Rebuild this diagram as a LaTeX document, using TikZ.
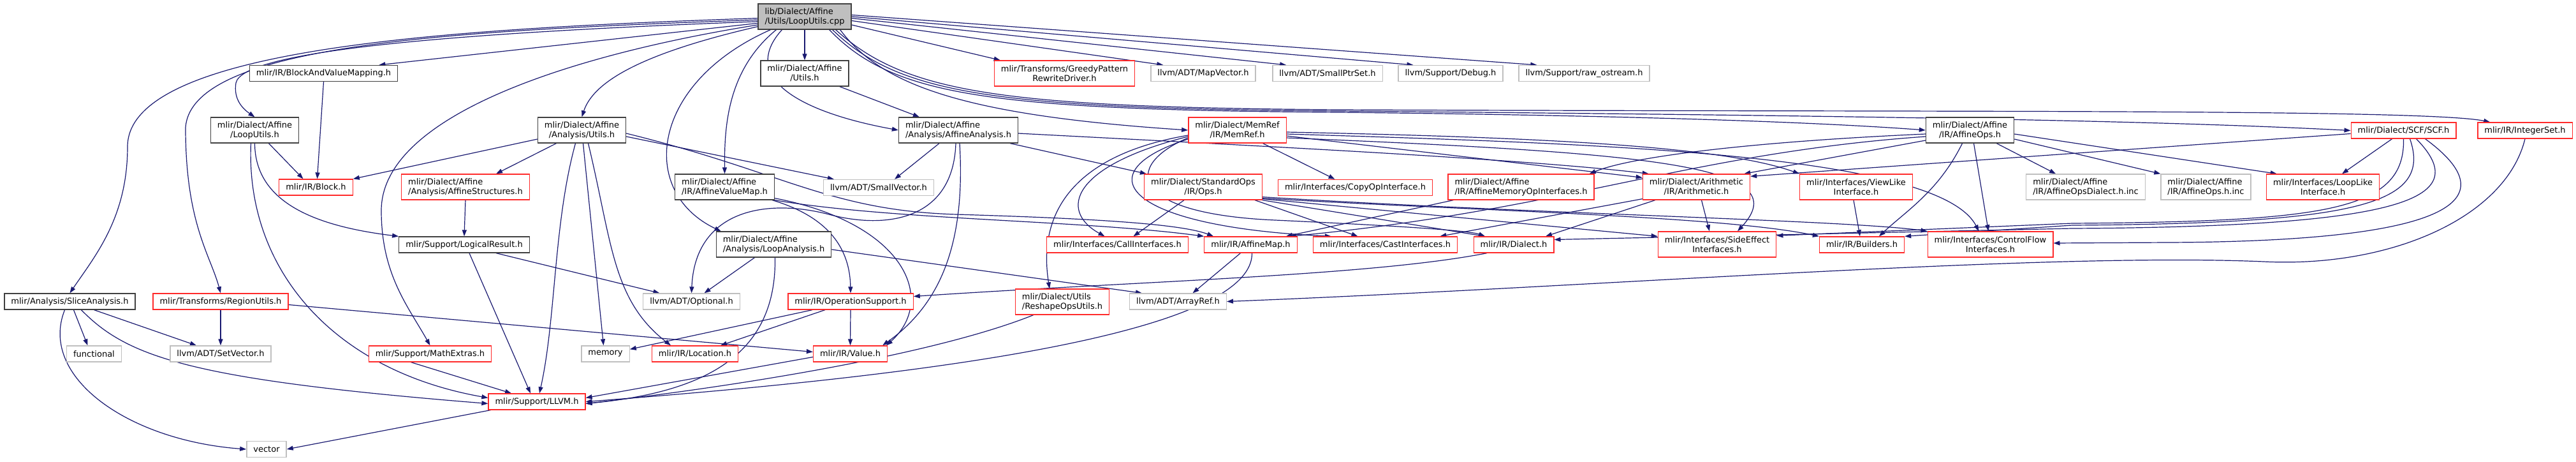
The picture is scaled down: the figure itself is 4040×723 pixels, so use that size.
\documentclass[tikz,border=0pt]{standalone}
\usepackage{fontspec}
\setmainfont{DejaVu Sans}
\usepackage{tikz}
\usetikzlibrary{arrows.meta,backgrounds}

\definecolor{edgeblue}{HTML}{191970}
\definecolor{docgrey}{HTML}{404040}
\definecolor{sysgrey}{HTML}{BFBFBF}
\definecolor{cutred}{HTML}{FF2A2A}

\begin{document}
\begin{tikzpicture}[
    x=1pt, y=-1pt,
    font=\fontsize{13pt}{15pt}\selectfont,
    hdr/.style    ={draw=docgrey, line width=1.3pt, fill=white, inner xsep=10.5pt, inner ysep=0pt, minimum height=25pt},
    hdrcut/.style ={hdr, draw=cutred},
    syshdr/.style ={hdr, draw=sysgrey},
    srcfile/.style={hdr, fill=sysgrey},
    dbl/.style    ={minimum height=40pt, align=center},
    dbll/.style   ={minimum height=40pt, align=left},
    inc/.style    ={-{Triangle[length=10pt,width=7pt]}, line width=1.2pt, edgeblue},
  ]
  \useasboundingbox (0,0) rectangle (4040,723);
  % the file itself
  \node[srcfile, dbll] (lu-root) at (1262,26) {lib/Dialect/Affine\\/Utils/LoopUtils.cpp};
  % row 2
  \node[hdr]          (lu-bavm)     at (507.5,115)  {mlir/IR/BlockAndValueMapping.h};
  \node[hdr, dbl]     (lu-affutils) at (1262,115)   {mlir/Dialect/Affine\\/Utils.h};
  \node[hdrcut, dbl]  (lu-greedy)   at (1669.5,115) {mlir/Transforms/GreedyPattern\\RewriteDriver.h};
  \node[syshdr]       (lu-mapvec)   at (1887,115)   {llvm/ADT/MapVector.h};
  \node[syshdr]       (lu-smallptr) at (2082,115)   {llvm/ADT/SmallPtrSet.h};
  \node[syshdr]       (lu-debug)    at (2275,115)   {llvm/Support/Debug.h};
  \node[syshdr]       (lu-rawos)    at (2484.5,115) {llvm/Support/raw\_ostream.h};
  % row 3
  \node[hdr, dbl]     (lu-loopuh)   at (399.5,204)  {mlir/Dialect/Affine\\/LoopUtils.h};
  \node[hdr, dbl]     (lu-anautils) at (912.5,204)  {mlir/Dialect/Affine\\/Analysis/Utils.h};
  \node[hdr, dbll]    (lu-affana)   at (1503,204)   {mlir/Dialect/Affine\\/Analysis/AffineAnalysis.h};
  \node[hdrcut, dbl]  (lu-memref)   at (1940.5,204) {mlir/Dialect/MemRef\\/IR/MemRef.h};
  \node[hdr, dbl]     (lu-affops)   at (3089.5,204) {mlir/Dialect/Affine\\/IR/AffineOps.h};
  \node[hdrcut]       (lu-scf)      at (3769.5,204.5) {mlir/Dialect/SCF/SCF.h};
  \node[hdrcut]       (lu-intset)   at (3960,204.5) {mlir/IR/IntegerSet.h};
  % row 4
  \node[hdrcut]       (lu-block)    at (495.5,293.5) {mlir/IR/Block.h};
  \node[hdrcut, dbll] (lu-affstruct) at (730,293)   {mlir/Dialect/Affine\\/Analysis/AffineStructures.h};
  \node[hdr, dbll]    (lu-affvmap)  at (1136.5,293) {mlir/Dialect/Affine\\/IR/AffineValueMap.h};
  \node[syshdr]       (lu-smallvec) at (1378,294)   {llvm/ADT/SmallVector.h};
  \node[hdrcut, dbl]  (lu-stdops)   at (1887,293)   {mlir/Dialect/StandardOps\\/IR/Ops.h};
  \node[hdrcut]       (lu-copyop)   at (2125.5,294) {mlir/Interfaces/CopyOpInterface.h};
  \node[hdrcut, dbll] (lu-affmemop) at (2385.5,293) {mlir/Dialect/Affine\\/IR/AffineMemoryOpInterfaces.h};
  \node[hdrcut, dbl]  (lu-arith)    at (2660.5,293) {mlir/Dialect/Arithmetic\\/IR/Arithmetic.h};
  \node[hdrcut, dbl]  (lu-viewlike) at (2911,293)   {mlir/Interfaces/ViewLike\\Interface.h};
  \node[syshdr, dbll] (lu-opsdialinc) at (3271,293) {mlir/Dialect/Affine\\/IR/AffineOpsDialect.h.inc};
  \node[syshdr, dbll] (lu-opsinc)   at (3459.5,293) {mlir/Dialect/Affine\\/IR/AffineOps.h.inc};
  \node[hdrcut, dbl]  (lu-looplike) at (3643,293)   {mlir/Interfaces/LoopLike\\Interface.h};
  % row 5
  \node[hdr]          (lu-logres)   at (728,383.5)  {mlir/Support/LogicalResult.h};
  \node[hdr, dbll]    (lu-loopana)  at (1213.5,383) {mlir/Dialect/Affine\\/Analysis/LoopAnalysis.h};
  \node[hdrcut]       (lu-callif)   at (1752.5,383.5) {mlir/Interfaces/CallInterfaces.h};
  \node[hdrcut]       (lu-affmap)   at (1961.5,383.5) {mlir/IR/AffineMap.h};
  \node[hdrcut]       (lu-castif)   at (2172.5,383.5) {mlir/Interfaces/CastInterfaces.h};
  \node[hdrcut]       (lu-dialect)  at (2374,383.5) {mlir/IR/Dialect.h};
  \node[hdrcut, dbl]  (lu-sideeff)  at (2693,383)   {mlir/Interfaces/SideEffect\\Interfaces.h};
  \node[hdrcut]       (lu-builders) at (2920,383.5) {mlir/IR/Builders.h};
  \node[hdrcut, dbl]  (lu-ctrlflow) at (3121.5,383) {mlir/Interfaces/ControlFlow\\Interfaces.h};
  % row 6
  \node[hdr]          (lu-slice)    at (109.5,472.5) {mlir/Analysis/SliceAnalysis.h};
  \node[hdrcut]       (lu-regionu)  at (346,472.5)  {mlir/Transforms/RegionUtils.h};
  \node[syshdr]       (lu-optional) at (1084.5,472.5) {llvm/ADT/Optional.h};
  \node[hdrcut]       (lu-opsupport) at (1334,472.5) {mlir/IR/OperationSupport.h};
  \node[hdrcut, dbll] (lu-reshape)  at (1666,473)   {mlir/Dialect/Utils\\/ReshapeOpsUtils.h};
  \node[syshdr]       (lu-arrayref) at (1847.5,472.5) {llvm/ADT/ArrayRef.h};
  % row 7
  \node[syshdr]       (lu-functional) at (147.5,554.5) {functional};
  \node[syshdr]       (lu-setvec)   at (346,554.5)  {llvm/ADT/SetVector.h};
  \node[hdrcut]       (lu-mathext)  at (674.5,554.5) {mlir/Support/MathExtras.h};
  \node[syshdr]       (lu-memory)   at (949.5,554.5) {memory};
  \node[hdrcut]       (lu-location) at (1090,554.5) {mlir/IR/Location.h};
  \node[hdrcut]       (lu-value)    at (1333.5,554.5) {mlir/IR/Value.h};
  % rows 8 and 9
  \node[hdrcut]       (lu-llvmh)    at (842,629.5)  {mlir/Support/LLVM.h};
  \node[syshdr]       (lu-vector)   at (418,704)    {vector};

  \begin{scope}[on background layer]
  % includes of the .cpp, to the left
  \draw[inc] (lu-root.182) .. controls (700,45) and (200,75) .. (200,230) .. controls (200,340) and (150,400) .. (lu-slice.north);
  \draw[inc] (lu-root.184) .. controls (700,48) and (300,70) .. (291,200) .. controls (291,350) and (330,400) .. (lu-regionu.north);
  \draw[inc] (lu-root.186) .. controls (700,52) and (380,80) .. (370,130) .. controls (366,155) and (380,170) .. (lu-loopuh.north);
  \draw[inc] (lu-root.188) -- ([xshift=-30pt]lu-bavm.north east);
  \draw[inc] (lu-root.190) .. controls (900,85) and (598,180) .. (598,330) .. controls (598,430) and (640,480) .. (lu-mathext.north);
  % straight down
  \draw[inc] (lu-root.192) .. controls (1000,85) and (930,130) .. (lu-anautils.north);
  \draw[inc] ([xshift=20pt]lu-root.south west) .. controls (1020,130) and (1000,300) .. ([xshift=8pt]lu-loopana.north west);
  \draw[inc] ([xshift=29pt]lu-root.south west) .. controls (1140,110) and (1136,200) .. (lu-affvmap.north);
  \draw[inc] (lu-root.south) -- (lu-affutils.north);
  \draw[inc] ([xshift=38pt]lu-root.south west) .. controls (1160,120) and (1250,175) .. (lu-affana.west);
  \draw[inc] ([xshift=-18pt]lu-root.south east) .. controls (1380,130) and (1500,180) .. (lu-memref.west);
  % to the right
  \draw[inc] (lu-root.-10) -- ([xshift=10pt]lu-greedy.north west);
  \draw[inc] (lu-root.-5) -- ([xshift=20pt]lu-mapvec.north west);
  \draw[inc] (lu-root.-2) -- ([xshift=22pt]lu-smallptr.north west);
  \draw[inc] (lu-root.0) -- ([xshift=24pt]lu-debug.north west);
  \draw[inc] (lu-root.2) -- ([xshift=29pt]lu-rawos.north west);
  \draw[inc] ([xshift=-35pt]lu-root.south east) .. controls (1400,150) and (1550,172) .. (2100,176) .. controls (2650,182) and (2900,195) .. (lu-affops.west);
  \draw[inc] ([xshift=-30pt]lu-root.south east) .. controls (1410,148) and (1560,170) .. (2100,174) .. controls (3000,182) and (3400,190) .. (lu-scf.west);
  \draw[inc] ([xshift=-25pt]lu-root.south east) .. controls (1420,146) and (1570,168) .. (2100,172) .. controls (3000,176) and (3800,170) .. ([xshift=20pt]lu-intset.north west);
  % left part
  \draw[inc] ([xshift=22pt]lu-loopuh.south) -- ([xshift=-20pt]lu-block.north);
  \draw[inc] (lu-loopuh.south) .. controls (400,320) and (500,355) .. (lu-logres.north west);
  \draw[inc] ([xshift=-6pt]lu-loopuh.south) .. controls (385,420) and (520,580) .. ([yshift=6pt]lu-llvmh.west);
  \draw[inc] (lu-bavm.south) -- ([xshift=2pt]lu-block.north);
  \draw[inc] ([yshift=-14pt]lu-anautils.west) -- (lu-block.north east);
  \draw[inc] ([xshift=-40pt]lu-anautils.south) -- ([xshift=48pt]lu-affstruct.north);
  \draw[inc] ([xshift=-10pt]lu-anautils.south) .. controls (868,350) and (872,500) .. ([xshift=4pt]lu-llvmh.north);
  \draw[inc] ([xshift=2pt]lu-anautils.south) -- ([xshift=-3pt]lu-memory.north);
  \draw[inc] ([xshift=10pt]lu-anautils.south) .. controls (960,380) and (960,470) .. ([xshift=-38pt]lu-location.north);
  \draw[inc] ([yshift=-10pt]lu-anautils.east) -- ([xshift=17pt]lu-smallvec.north west);
  \draw[inc] ([yshift=-5pt]lu-anautils.east) .. controls (1230,270) and (1300,330) .. (1500,336) .. controls (1700,342) and (1850,350) .. ([xshift=15pt]lu-affmap.north west);
  \draw[inc] (lu-affstruct.south) -- (lu-logres.north);
  \draw[inc] ([xshift=50pt]lu-logres.south) -- ([xshift=-50pt]lu-optional.north);
  \draw[inc] ([xshift=8pt]lu-logres.south) -- ([xshift=-10pt]lu-llvmh.north);
  \draw[inc] ([xshift=6pt]lu-slice.south) -- ([xshift=-10pt]lu-functional.north);
  \draw[inc] ([xshift=38pt]lu-slice.south) -- ([xshift=-38pt]lu-setvec.north);
  \draw[inc] ([xshift=18pt]lu-slice.south) .. controls (200,560) and (300,595) .. ([yshift=-3pt]lu-llvmh.west);
  \draw[inc] ([xshift=-8pt]lu-slice.south) .. controls (60,590) and (200,690) .. (lu-vector.west);
  \draw[inc] (lu-regionu.south) -- (lu-setvec.north);
  \draw[inc] ([yshift=-5pt]lu-regionu.east) -- ([yshift=3pt]lu-value.west);
  \draw[inc] ([xshift=-30pt]lu-mathext.south) -- ([xshift=-40pt]lu-llvmh.north);
  \draw[inc] ([xshift=4pt]lu-llvmh.south west) -- (lu-vector.east);
  % middle part
  \draw[inc] ([xshift=-15pt]lu-affutils.south east) -- ([xshift=33pt]lu-affana.north west);
  \draw[inc] ([xshift=-4pt]lu-affvmap.south east) .. controls (1300,340) and (1333,390) .. (lu-opsupport.north);
  \draw[inc] (lu-affvmap.south east) .. controls (1400,345) and (1700,345) .. (lu-affmap.north west);
  \draw[inc] ([yshift=3pt]lu-affvmap.south east) .. controls (1420,350) and (1470,470) .. ([xshift=-2pt]lu-value.north east);
  \draw[inc] ([xshift=-30pt]lu-loopana.south) -- ([xshift=20pt]lu-optional.north);
  \draw[inc] ([xshift=2pt]lu-loopana.south) .. controls (1218,560) and (1100,615) .. ([yshift=-3pt]lu-llvmh.east);
  \draw[inc] ([yshift=-8pt]lu-loopana.east) -- ([xshift=20pt]lu-arrayref.north west);
  \draw[inc] ([xshift=-30pt]lu-affana.south) -- ([xshift=25pt]lu-smallvec.north);
  \draw[inc] ([xshift=-13pt]lu-affana.south east) -- ([xshift=4pt]lu-stdops.north west);
  \draw[inc] ([yshift=-5pt]lu-affana.east) .. controls (2000,230) and (2400,250) .. ([xshift=10pt]lu-arith.north west);
  \draw[inc] ([xshift=2pt]lu-affana.south) .. controls (1515,390) and (1470,480) .. ([xshift=-8pt]lu-value.north east);
  \draw[inc] ([xshift=-4pt]lu-affana.south) .. controls (1495,345) and (1390,360) .. (1300,336) .. controls (1200,310) and (1090,330) .. (lu-optional.north);
  \draw[inc] ([xshift=-60pt]lu-opsupport.south) -- ([yshift=-6pt]lu-memory.north east);
  \draw[inc] ([xshift=-40pt]lu-opsupport.south) -- ([xshift=40pt]lu-location.north);
  \draw[inc] (lu-opsupport.south) -- (lu-value.north);
  \draw[inc] ([yshift=-5pt]lu-value.west) -- ([yshift=6pt]lu-llvmh.east);
  % MemRef.h and Ops.h
  \draw[inc] ([yshift=-8pt]lu-memref.west) .. controls (1700,240) and (1625,320) .. ([xshift=-20pt]lu-reshape.north);
  \draw[inc] ([yshift=-10pt]lu-memref.west) .. controls (1680,260) and (1660,330) .. ([xshift=-20pt]lu-callif.north);
  \draw[inc] ([yshift=-14pt]lu-memref.west) .. controls (1700,270) and (1760,355) .. ([xshift=29pt]lu-castif.north west);
  \draw[inc] ([yshift=-12pt]lu-memref.west) .. controls (1760,260) and (1770,335) .. (2000,345) .. controls (2150,352) and (2300,360) .. ([xshift=-45pt]lu-dialect.north);
  \draw[inc] ([xshift=40pt]lu-memref.south) -- ([xshift=-32pt]lu-copyop.north);
  \draw[inc] ([yshift=-9pt]lu-memref.east) -- ([yshift=-6pt]lu-arith.north west);
  \draw[inc] ([yshift=-3pt]lu-memref.east) .. controls (2400,215) and (2700,228) .. (lu-viewlike.north west);
  \draw[inc] ([yshift=-6pt]lu-memref.east) .. controls (2500,225) and (3040,240) .. ([xshift=-18pt]lu-ctrlflow.north);
  \draw[inc] ([yshift=-12pt]lu-memref.east) .. controls (2600,240) and (2820,260) .. ([xshift=32pt]lu-sideeff.north);
  \draw[inc] ([xshift=-30pt]lu-stdops.south) -- ([xshift=25pt]lu-callif.north);
  \draw[inc] ([xshift=-12pt]lu-stdops.south east) -- ([xshift=-43pt]lu-castif.north);
  \draw[inc] (lu-stdops.south east) -- ([xshift=-45pt]lu-dialect.north);
  \draw[inc] ([yshift=3pt]lu-stdops.south east) .. controls (2300,330) and (2700,338) .. (lu-builders.north west);
  \draw[inc] ([yshift=5pt]lu-stdops.south east) .. controls (2400,335) and (2900,345) .. (lu-ctrlflow.north west);
  \draw[inc] ([yshift=2pt]lu-stdops.south east) -- ([yshift=-8pt]lu-sideeff.north west);
  \draw[inc] ([xshift=8pt]lu-arith.south) -- ([xshift=-12pt]lu-sideeff.north);
  \draw[inc] ([xshift=20pt]lu-arith.south west) -- ([xshift=50pt]lu-dialect.north);
  \draw[inc] ([yshift=2pt]lu-arith.south west) -- ([xshift=-28pt]lu-castif.north east);
  \draw[inc] ([xshift=9pt]lu-affmemop.south west) -- ([xshift=-18pt]lu-affmap.north east);
  \draw[inc] ([xshift=-42pt]lu-dialect.south) .. controls (2150,432) and (1800,440) .. ([yshift=8pt]lu-opsupport.east);
  \draw[inc] ([xshift=29pt]lu-reshape.south west) .. controls (1480,550) and (1200,600) .. ([yshift=-3pt]lu-llvmh.east);
  \draw[inc] ([xshift=-16pt]lu-affmap.south) -- ([xshift=23pt]lu-arrayref.north);
  \draw[inc] ([xshift=2pt]lu-affmap.south) .. controls (1965,540) and (1300,600) .. (lu-llvmh.east);
  \draw[inc] ([xshift=-4pt]lu-viewlike.south) -- ([xshift=-3pt]lu-builders.north);
  % AffineOps.h
  \draw[inc] ([yshift=-6pt]lu-affops.west) .. controls (2750,222) and (2560,245) .. ([xshift=-8pt]lu-affmemop.north east);
  \draw[inc] ([yshift=-16pt]lu-affops.west) -- ([xshift=-10pt]lu-arith.north east);
  \draw[inc] ([yshift=-10pt]lu-affops.west) .. controls (2650,240) and (2450,330) .. ([xshift=-12pt]lu-affmap.north east);
  \draw[inc] ([xshift=-12pt]lu-affops.south) .. controls (3040,300) and (2990,330) .. ([xshift=27pt]lu-builders.north);
  \draw[inc] ([xshift=6pt]lu-affops.south) -- ([xshift=-3pt]lu-ctrlflow.north);
  \draw[inc] ([xshift=-28pt]lu-affops.south east) -- ([xshift=47pt]lu-opsdialinc.north west);
  \draw[inc] ([yshift=-6pt]lu-affops.east) -- ([xshift=17pt]lu-looplike.north west);
  \draw[inc] ([yshift=-14pt]lu-affops.east) -- (lu-opsinc.north west);
  % SCF.h and IntegerSet.h
  \draw[inc] ([xshift=-18pt]lu-scf.south) -- ([xshift=30pt]lu-looplike.north);
  \draw[inc] ([yshift=-5pt]lu-scf.west) -- ([yshift=-4pt]lu-arith.north east);
  \draw[inc] (lu-scf.south) .. controls (3772,330) and (3650,347) .. (3250,350) -- ([yshift=-7pt]lu-sideeff.north east);
  \draw[inc] ([xshift=10pt]lu-scf.south) .. controls (3815,320) and (3700,350) .. (3250,353) -- (lu-builders.north east);
  \draw[inc] ([xshift=20pt]lu-scf.south) .. controls (3880,310) and (3780,355) .. (3250,358) -- ([yshift=8pt]lu-dialect.east);
  \draw[inc] ([xshift=34pt]lu-scf.south) .. controls (3930,310) and (3860,378) .. (3400,380) -- ([yshift=2pt]lu-ctrlflow.east);
  \draw[inc] (lu-intset.south) .. controls (3930,340) and (3750,420) .. (3550,410) .. controls (3200,395) and (2500,450) .. (lu-arrayref.east);
  \end{scope}
\end{tikzpicture}
\end{document}
